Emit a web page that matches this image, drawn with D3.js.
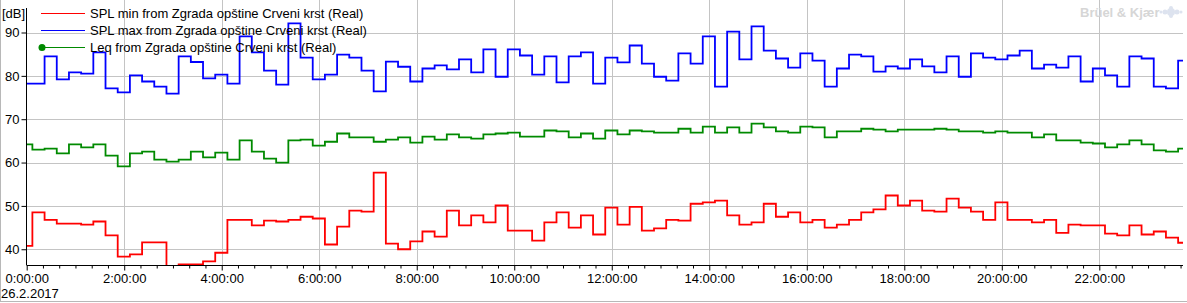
<!DOCTYPE html>
<html>
<head>
<meta charset="utf-8">
<script src="https://cdn.jsdelivr.net/npm/d3@7"></script>
<style>
  html, body { margin: 0; padding: 0; background: #fff; }
  svg { display: block; }
  text { font-family: "Liberation Sans", Arial, sans-serif; }
</style>
</head>
<body>
<svg id="chart" width="1187" height="303"></svg>
<script>
'use strict';

// 15 minute intervals, first one starts at -0:08 (clipped by the axis)
const intervalMinutes = 15;
const firstStart = -8;

const seriesNames = [
  'SPL min from Zgrada opštine Crveni krst (Real)',
  'SPL max from Zgrada opštine Crveni krst (Real)',
  'Leq from Zgrada opštine Crveni krst (Real)'
];

const splMin = [
  40.8, 48.5, 46.8, 45.9, 45.9, 45.7, 46.4, 43.2, 38.3, 38.8, 41.6, 41.6,
  35.0, 36.5, 36.5, 37.2, 39.2, 46.8, 46.8, 45.5, 46.6, 46.4, 46.8, 47.5,
  47.1, 41.1, 45.2, 48.9, 48.7, 57.7, 41.3, 40.0, 41.8, 44.1, 42.9, 48.9,
  45.5, 47.8, 46.2, 50.1, 44.3, 44.3, 42.0, 46.2, 48.5, 45.0, 47.8, 43.4,
  49.6, 45.7, 49.8, 44.3, 44.8, 46.8, 46.6, 50.5, 50.8, 51.2, 47.8, 45.7,
  46.2, 50.5, 47.5, 48.5, 46.2, 46.8, 45.0, 45.7, 46.8, 48.5, 49.2, 52.4,
  50.1, 51.2, 48.9, 48.7, 51.7, 49.6, 48.7, 46.8, 50.8, 46.8, 46.8, 46.2,
  46.8, 43.8, 45.7, 45.5, 45.5, 43.6, 43.2, 45.5, 43.4, 44.1, 42.7, 41.5
];

const splMax = [
  78.2, 78.2, 84.5, 79.2, 80.8, 80.5, 85.4, 77.1, 76.2, 80.1, 78.7, 77.5,
  75.9, 84.5, 83.2, 79.4, 80.3, 78.2, 89.1, 85.4, 81.2, 78.0, 92.1, 84.2,
  79.2, 80.3, 84.9, 84.2, 81.2, 76.4, 83.3, 82.1, 78.7, 81.7, 82.4, 81.5,
  83.8, 80.8, 86.1, 79.8, 86.1, 84.7, 80.3, 84.5, 78.5, 84.5, 85.4, 78.2,
  84.2, 83.1, 87.0, 82.8, 79.8, 78.9, 85.2, 82.8, 89.1, 77.5, 90.2, 83.8,
  91.4, 85.8, 84.0, 81.9, 85.2, 83.5, 77.5, 81.7, 84.9, 84.5, 81.0, 82.2,
  81.7, 83.8, 82.2, 80.8, 84.5, 79.8, 85.2, 84.2, 83.8, 84.7, 85.8, 81.7,
  82.6, 81.9, 84.5, 78.7, 81.7, 80.1, 77.5, 84.5, 84.0, 77.5, 77.1, 83.5
];

const leq = [
  64.2, 63.0, 63.2, 62.1, 64.2, 63.5, 64.2, 61.6, 59.1, 62.1, 62.5, 60.7,
  60.2, 60.7, 62.5, 61.2, 62.3, 60.7, 65.1, 62.5, 60.9, 60.0, 65.1, 65.3,
  63.9, 64.8, 66.7, 65.8, 65.8, 64.8, 65.3, 65.8, 64.6, 66.0, 65.3, 66.5,
  65.8, 65.5, 66.5, 66.7, 66.9, 66.0, 66.0, 67.4, 67.2, 65.8, 66.7, 65.5,
  67.4, 66.5, 67.4, 67.2, 66.9, 66.9, 67.8, 66.9, 68.3, 66.9, 68.1, 66.9,
  69.0, 68.1, 67.2, 66.9, 68.3, 68.1, 65.8, 67.2, 67.2, 67.8, 67.6, 67.2,
  67.6, 67.6, 67.6, 67.8, 67.6, 67.2, 67.2, 66.9, 67.2, 66.9, 66.9, 65.8,
  66.5, 65.1, 65.1, 64.6, 64.4, 63.5, 64.2, 65.1, 64.2, 62.8, 62.5, 63.2
];

const yTicks = [40, 50, 60, 70, 80, 90];
const xTickMinutes = [0, 120, 240, 360, 480, 600, 720, 840, 960, 1080, 1200, 1320];
const xTickLabels = ['0:00:00', '2:00:00', '4:00:00', '6:00:00', '8:00:00', '10:00:00',
  '12:00:00', '14:00:00', '16:00:00', '18:00:00', '20:00:00', '22:00:00'];
const dateLabel = '26.2.2017';

const colors = ['#ff0000', '#0000ff', '#008a00'];
const grid = '#c4c4c4';

const svg = d3.select('#chart');
const W = 1187, H = 303;
const plot = { left: 26.7, right: 1183, top: 0, bottom: 265.3 };

const x = d3.scaleLinear().domain([0, 1423]).range([plot.left, plot.right]);
const y = d3.scaleLinear().domain([36.3, 97.5]).range([plot.bottom, plot.top]);

// outer frame lines (left and bottom)
svg.append('line').attr('x1', 0.5).attr('x2', 0.5).attr('y1', 0).attr('y2', 301.5)
  .attr('stroke', '#b8b8b8');
svg.append('line').attr('x1', 0).attr('x2', W).attr('y1', 301.5).attr('y2', 301.5)
  .attr('stroke', '#b8b8b8');

// grid
const gridG = svg.append('g');
gridG.selectAll('.hg').data(yTicks).join('line')
  .attr('x1', plot.left).attr('x2', plot.right)
  .attr('y1', d => Math.round(y(d)) + 0.5).attr('y2', d => Math.round(y(d)) + 0.5)
  .attr('stroke', grid);
gridG.selectAll('.vg').data(xTickMinutes.slice(1)).join('line')
  .attr('x1', d => Math.round(x(d)) + 0.5).attr('x2', d => Math.round(x(d)) + 0.5)
  .attr('y1', plot.top).attr('y2', plot.bottom)
  .attr('stroke', grid);

// clip
svg.append('clipPath').attr('id', 'clip').append('rect')
  .attr('x', plot.left).attr('y', plot.top)
  .attr('width', plot.right - plot.left).attr('height', plot.bottom - plot.top);

const line = d3.line()
  .x(d => x(d[0]))
  .y(d => y(d[1]))
  .curve(d3.curveStepAfter);

function toPoints(values) {
  const pts = values.map((v, i) => [firstStart + i * intervalMinutes, v]);
  pts.push([firstStart + values.length * intervalMinutes, values[values.length - 1]]);
  return pts;
}

const linesG = svg.append('g').attr('clip-path', 'url(#clip)');
[splMin, splMax, leq].forEach((values, i) => {
  linesG.append('path')
    .attr('d', line(toPoints(values)))
    .attr('fill', 'none')
    .attr('stroke', colors[i])
    .attr('stroke-width', 1.8);
});

// y axis
const yAxis = svg.append('g').attr('transform', 'translate(26.5,0)')
  .call(d3.axisLeft(y).tickValues(yTicks).tickSize(5).tickPadding(2).tickFormat(d3.format('d')));
yAxis.select('.domain').attr('d', 'M0,8V' + plot.bottom).attr('stroke', '#000');
yAxis.selectAll('text').attr('font-size', 13).attr('fill', '#000')
  .attr('font-family', '"Liberation Sans", Arial, sans-serif');
yAxis.selectAll('.tick line').attr('stroke', '#000');

svg.append('text').attr('x', 2).attr('y', 18).attr('font-size', 13).text('[dB]');

// x axis
const minorTicks = d3.range(0, 1423, 20).filter(m => m % 120 !== 0);
const xMinor = svg.append('g').attr('transform', 'translate(0,265.5)')
  .call(d3.axisBottom(x).tickValues(minorTicks).tickSize(3).tickFormat(''));
xMinor.select('.domain').remove();

const xAxis = svg.append('g').attr('transform', 'translate(0,265.5)')
  .call(d3.axisBottom(x).tickValues(xTickMinutes).tickSize(5).tickPadding(3)
    .tickFormat((d, i) => xTickLabels[i]));
xAxis.select('.domain').attr('d', 'M' + plot.left + ',0H' + plot.right).attr('stroke', '#000');
xAxis.selectAll('text').attr('font-size', 13).attr('fill', '#000')
  .attr('font-family', '"Liberation Sans", Arial, sans-serif');
xAxis.selectAll('line').attr('stroke', '#000');
svg.selectAll('.tick line').attr('stroke', '#000');

svg.append('text').attr('x', 1).attr('y', 298).attr('font-size', 13).text(dateLabel);

// legend
const legend = svg.append('g');
seriesNames.forEach((name, i) => {
  const ly = 13.5 + i * 17;
  legend.append('line').attr('x1', 41).attr('x2', 85).attr('y1', ly).attr('y2', ly)
    .attr('stroke', colors[i]).attr('stroke-width', 1);
  if (i === 2) {
    legend.append('circle').attr('cx', 42).attr('cy', ly).attr('r', 3.5).attr('fill', colors[i]);
  }
  legend.append('text').attr('x', 90).attr('y', ly + 4.5).attr('font-size', 13)
    .attr('fill', '#000').text(name);
});

// logo
svg.append('text').attr('x', 1080).attr('y', 17).attr('font-size', 13)
  .attr('font-weight', 'bold').attr('fill', '#d6d6d6').text('Brüel & Kjær');
const logo = svg.append('g').attr('transform', 'translate(1171,12)').attr('fill', '#dde3ef');
[[0, 0, 4], [-6, 0, 2.5], [6, 0, 2.5], [0, -4, 2], [0, 4, 2], [-10, 0, 1.5], [10, 0, 1.5]]
  .forEach(c => logo.append('circle').attr('cx', c[0]).attr('cy', c[1]).attr('r', c[2]));
</script>
</body>
</html>
